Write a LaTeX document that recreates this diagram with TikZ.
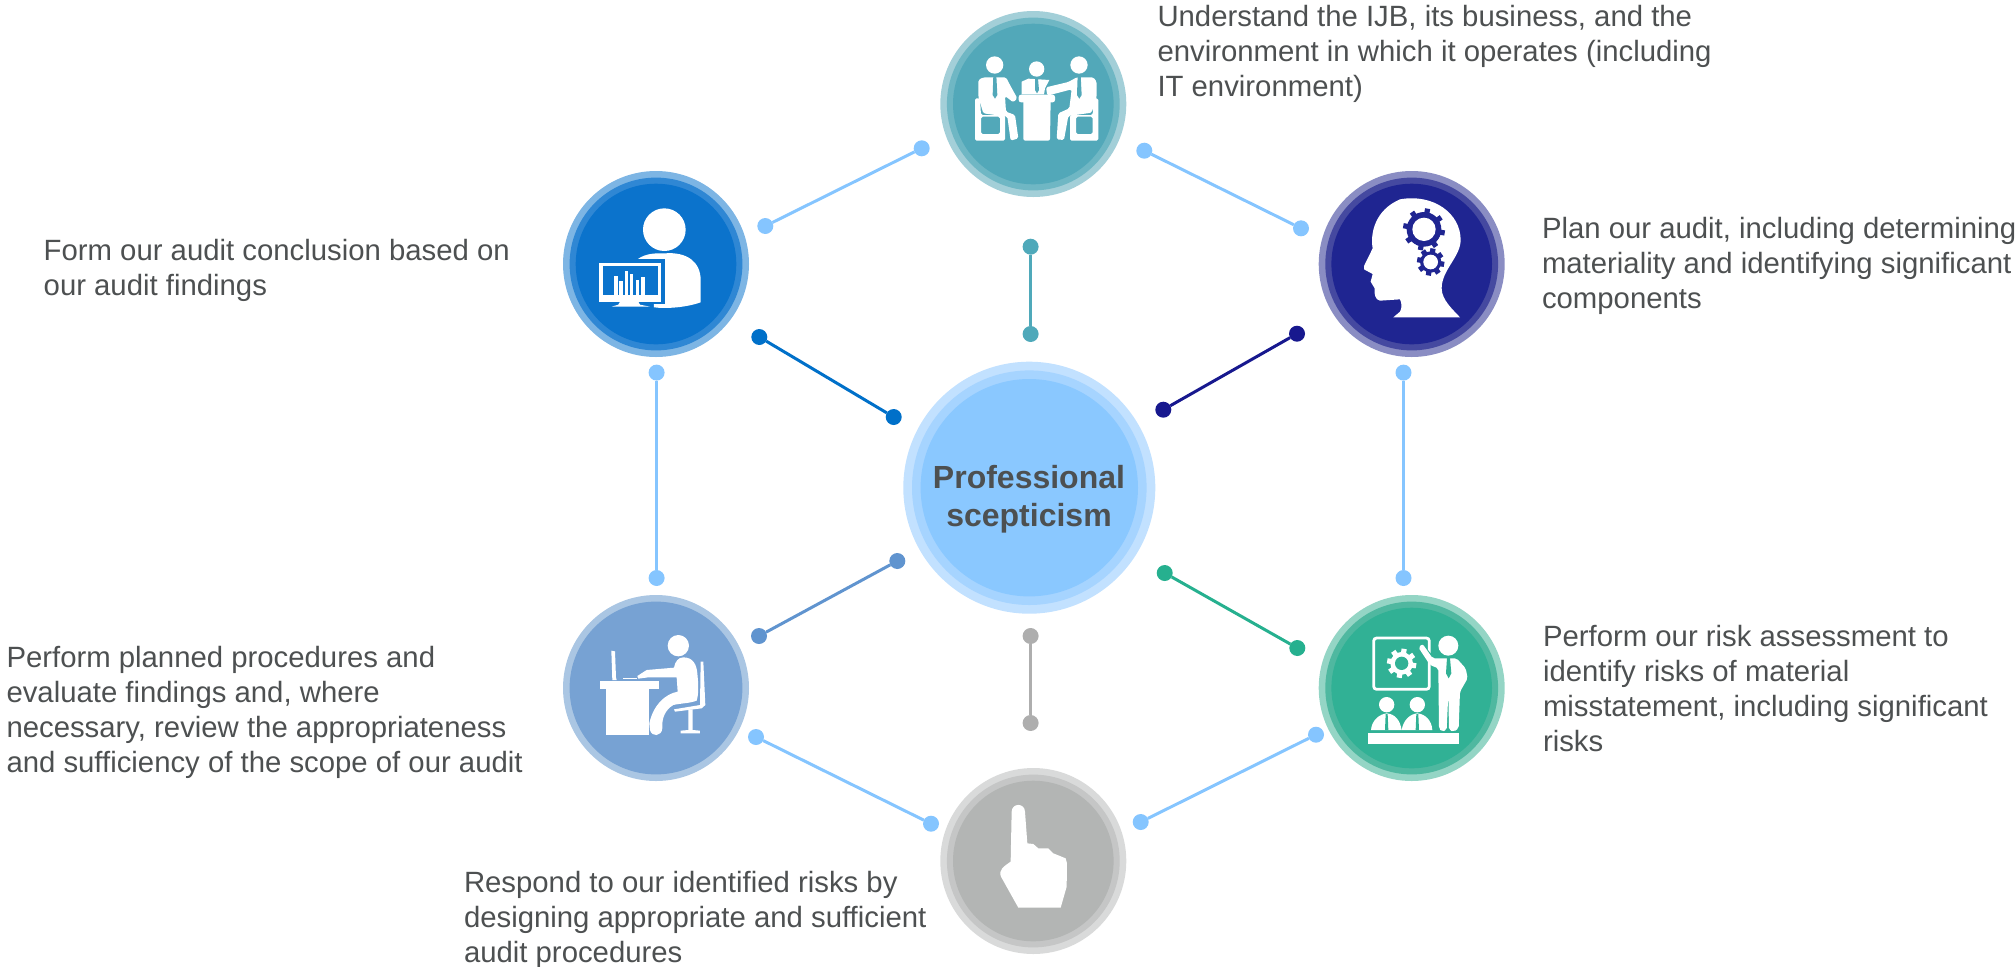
\documentclass[tikz,border=0pt]{standalone}
\usepackage{fontspec}
\setmainfont{Liberation Sans}
\definecolor{lb}{HTML}{85C5FF}
\definecolor{txt}{HTML}{4D5051}
\definecolor{tealA}{HTML}{A3CFD8}\definecolor{tealB}{HTML}{6FB7C4}\definecolor{tealC}{HTML}{52A8B9}
\definecolor{navyA}{HTML}{8A8DC3}\definecolor{navyB}{HTML}{4549A0}\definecolor{navyC}{HTML}{1F2591}
\definecolor{bluA}{HTML}{7DB5E4}\definecolor{bluB}{HTML}{2F87D4}\definecolor{bluC}{HTML}{0B73CC}
\definecolor{steA}{HTML}{AAC6E3}\definecolor{steB}{HTML}{77A2D3}\definecolor{steC}{HTML}{77A2D3}
\definecolor{grnA}{HTML}{94D5C5}\definecolor{grnB}{HTML}{4FB8A0}\definecolor{grnC}{HTML}{31B195}
\definecolor{gryA}{HTML}{D9DADA}\definecolor{gryB}{HTML}{C5C6C6}\definecolor{gryC}{HTML}{B3B5B4}
\definecolor{hubA}{HTML}{C2E1FF}\definecolor{hubB}{HTML}{A6D4FF}\definecolor{hubC}{HTML}{8AC8FF}
\definecolor{dBlu}{HTML}{0070C9}\definecolor{dNav}{HTML}{17188E}\definecolor{dSte}{HTML}{6094CF}
\definecolor{dGrn}{HTML}{26B08F}\definecolor{dGry}{HTML}{AEAEAE}\definecolor{dTea}{HTML}{4FA9BA}
\tikzset{
  disc/.style={circle,inner sep=0pt,outer sep=0pt,draw=none},
  pin/.style={circle,inner sep=0pt,outer sep=0pt,draw=none,minimum size=8pt,fill=#1},
  link/.style={draw=#1,line width=1.5pt},
  lbl/.style={anchor=north west,inner sep=0pt,outer sep=0pt,align=left,text=txt,font=\fontsize{14.66}{17.45}\selectfont},
  zoomed/.style={x=1/6*1pt,y=-1/6*1pt},
  wh/.style={fill=white,draw=none}
}
% gear: x, y, root radius, tooth radius, hole radius, gear colour, hole colour
\newcommand{\mygear}[7]{%
  \begin{scope}[shift={(#1,#2)}]
    \fill[#6] (0,0) circle[radius=#3];
    \foreach \a in {0,45,...,315}{\draw[#6,line width=2.6pt] (\a+10:#3-2) -- (\a+10:#4);}
    \fill[#7] (0,0) circle[radius=#5];
  \end{scope}}
\newcommand{\myrings}[6]{%
  \node[disc,minimum size=93pt,fill=#4] (#1) at (#2,#3) {};
  \node[disc,minimum size=86.4pt,fill=#5] (#1m) at (#2,#3) {};
  \node[disc,minimum size=80.3pt,fill=#6] (#1i) at (#2,#3) {};}
\begin{document}
\begin{tikzpicture}[x=0.5pt,y=-0.5pt]
\useasboundingbox (0,0) rectangle (2015,966);
% hub
\node[disc,minimum size=126pt,fill=hubA] (hub) at (1029.3,487.7) {};
\node[disc,minimum size=117.3pt,fill=hubB] (hubm) at (1029.3,487.7) {};
\node[disc,minimum size=108.7pt,fill=hubC] (hubi) at (1029.3,487.7) {};
\node[align=center,text=txt,inner sep=0pt,font=\fontsize{16}{18.9}\selectfont\bfseries] (hubt) at (1029,499.5) {Professional\\scepticism};
% rings
\myrings{t}{1033.3}{104}{tealA}{tealB}{tealC}
\myrings{r}{1411.7}{264}{navyA}{navyB}{navyC}
\myrings{l}{656}{264}{bluA}{bluB}{bluC}
\myrings{ll}{656}{688}{steA}{steB}{steC}
\myrings{lr}{1411.7}{688}{grnA}{grnB}{grnC}
\myrings{b}{1033.3}{861}{gryA}{gryB}{gryC}
% pins
\node[pin=lb] (a) at (921.7,148.3) {};
\node[pin=lb] (b) at (765.3,226) {};
\node[pin=dBlu] (c) at (759.3,337) {};
\node[pin=dBlu] (d) at (893.7,417) {};
\node[pin=lb] (e) at (1144.3,150.7) {};
\node[pin=lb] (f) at (1301,228.3) {};
\node[pin=dNav] (g) at (1297,333.7) {};
\node[pin=dNav] (h) at (1163.3,409.7) {};
\node[pin=dSte] (i) at (897.3,561) {};
\node[pin=dSte] (j) at (759,636) {};
\node[pin=lb] (k) at (756,737) {};
\node[pin=lb] (m) at (931,823.7) {};
\node[pin=dGrn] (n) at (1164.7,573) {};
\node[pin=dGrn] (o) at (1297.3,648) {};
\node[pin=lb] (p) at (1316,734.7) {};
\node[pin=lb] (q) at (1140.7,822) {};
\node[pin=dTea] (v1) at (1030.6,246.7) {};
\node[pin=dTea] (v2) at (1030.6,334) {};
\node[pin=dGry] (w1) at (1030.6,636) {};
\node[pin=dGry] (w2) at (1030.6,723) {};
\node[pin=lb] (x1) at (656.6,372.6) {};
\node[pin=lb] (x2) at (656.6,578) {};
\node[pin=lb] (y1) at (1403.5,372.6) {};
\node[pin=lb] (y2) at (1403.5,578) {};
\draw[link=lb] (a) -- (b);
\draw[link=dBlu] (c) -- (d);
\draw[link=lb] (e) -- (f);
\draw[link=dNav] (g) -- (h);
\draw[link=dSte] (i) -- (j);
\draw[link=lb] (k) -- (m);
\draw[link=dGrn] (n) -- (o);
\draw[link=lb] (p) -- (q);
\draw[link=dTea] (v1) -- (v2);
\draw[link=dGry] (w1) -- (w2);
\draw[link=lb] (x1) -- (x2);
\draw[link=lb] (y1) -- (y2);
% labels
\node[lbl] (t1) at (1157.5,5.5) {Understand the IJB, its business, and the\\environment in which it operates (including\\IT environment)};
\node[lbl] (t2) at (1542,217.5) {Plan our audit, including determining\\materiality and identifying significant\\components};
\node[lbl] (t3) at (43.7,239.5) {Form our audit conclusion based on\\our audit findings};
\node[lbl] (t4) at (6.5,646.5) {Perform planned procedures and\\evaluate findings and, where\\necessary, review the appropriateness\\and sufficiency of the scope of our audit};
\node[lbl] (t5) at (1543,625.5) {Perform our risk assessment to\\identify risks of material\\misstatement, including significant\\risks};
\node[lbl] (t6) at (464,871.5) {Respond to our identified risks by\\designing appropriate and sufficient\\audit procedures};
% icon: meeting
\begin{scope}[shift={(920,0)},zoomed]
  \fill[wh] (224,195) circle[radius=26];
  \fill[wh] (477,195) circle[radius=26];
  \fill[wh] (350,207) circle[radius=23];
  % chairs
  \fill[wh,rounded corners=0.8pt,even odd rule] (165,295) -- (180,295) -- (183,345) -- (255,345) -- (255,422) -- (165,422) -- cycle (183,350) rectangle (240,402);
  \fill[wh,rounded corners=0.8pt,even odd rule] (535,295) -- (520,295) -- (518,345) -- (450,345) -- (450,422) -- (535,422) -- cycle (468,350) rectangle (518,402);
  % left person
  \fill[tealC] (183,290) rectangle (262,335);
  \fill[wh,rounded corners=0.8pt] (175,240) -- (190,232) -- (258,232) -- (270,255) -- (292,295) -- (280,307) -- (255,288) -- (258,335) -- (285,345) -- (295,415) -- (272,422) -- (262,350) -- (190,340) -- (175,290) -- cycle;
  \fill[tealC] (220,226) -- (229,226) -- (232,285) -- (225,296) -- (218,285) -- cycle;
  % right person
  \fill[tealC] (450,290) rectangle (518,335);
  \fill[wh,rounded corners=0.8pt] (378,262) -- (445,246) -- (470,232) -- (520,232) -- (530,245) -- (530,290) -- (515,338) -- (445,348) -- (432,420) -- (410,418) -- (415,340) -- (448,325) -- (455,268) -- (382,287) -- cycle;
  \fill[tealC] (473,226) -- (482,226) -- (485,285) -- (478,296) -- (471,285) -- cycle;
  % middle
  \fill[wh] (305,283) -- (305,245) -- (325,236) -- (388,240) -- (375,265) -- (372,283) -- cycle;
  \fill[tealC] (345,236) -- (354,236) -- (357,270) -- (351,280) -- (345,270) -- cycle;
  \fill[wh,rounded corners=1.2pt] (296,284) rectangle (405,307);
  \fill[wh,rounded corners=1pt] (310,300) -- (392,300) -- (390,422) -- (310,422) -- cycle;
\end{scope}
% icon: head with gears
\begin{scope}[shift={(1300,160)},zoomed]
  \fill[wh] (280,472) -- (300,455) .. controls (306,445) and (306,430) .. (300,418) -- (240,422) .. controls (225,420) and (222,400) .. (224,385) -- (212,365) -- (218,342) -- (192,328) -- (192,318) -- (218,265) .. controls (210,220) and (225,150) .. (300,118) .. controls (400,100) and (482,160) .. (482,240) .. controls (482,290) and (425,330) .. (425,385) .. controls (425,420) and (460,450) .. (480,472) -- cycle;
  \mygear{372}{208}{52}{63}{35}{navyC}{white}
  \mygear{392}{306}{32}{41}{22}{navyC}{white}
\end{scope}
% icon: analyst
\begin{scope}[shift={(550,160)},zoomed]
  \fill[wh] (343,209) circle[radius=64];
  \fill[wh] (262,298) .. controls (290,278) and (320,280) .. (345,280) .. controls (410,275) and (452,305) .. (452,360) -- (452,427) .. controls (410,442) and (350,447) .. (312,442) -- (312,300) -- cycle;
  \fill[bluC] (145,298) rectangle (345,432);
  \fill[wh] (148,308) rectangle (333,425);
  \fill[bluC] (160,318) rectangle (323,405);
  \fill[wh] (210,425) -- (265,425) -- (270,434) -- (300,440) -- (185,440) -- (205,434) -- cycle;
  \fill[wh] (192,349) rectangle (204,405);
  \fill[wh] (208,362) rectangle (218,405);
  \fill[wh] (224,333) rectangle (235,405);
  \fill[wh] (241,342) rectangle (250,405);
  \fill[wh] (257,361) rectangle (268,405);
  \fill[wh] (273,350) rectangle (285,405);
\end{scope}
% icon: person at desk
\begin{scope}[shift={(550,590)},zoomed]
  \fill[wh] (385,167) circle[radius=32];
  \fill[wh] (150,273) rectangle (328,298);
  \fill[wh] (167,298) rectangle (298,436);
  \fill[wh] (184,182) -- (195,184) -- (198,262) -- (200,270) -- (187,270) -- cycle;
  \fill[wh] (220,263) rectangle (262,268);
  \fill[wh] (400,202) .. controls (430,202) and (440,225) .. (442,250) .. controls (445,280) and (447,310) .. (440,332) .. controls (420,340) and (390,340) .. (370,345) .. controls (345,360) and (335,385) .. (337,415) .. controls (335,440) and (305,442) .. (300,420) -- (298,400) .. controls (310,345) and (345,312) .. (383,305) -- (380,262) -- (295,262) -- (265,266) -- (262,258) -- (290,240) -- (372,233) .. controls (375,215) and (385,202) .. (400,202) -- cycle;
  \fill[wh] (452,215) -- (460,215) -- (466,345) -- (455,355) -- (375,365) -- (372,358) -- (450,345) -- cycle;
  \fill[wh] (415,360) -- (428,358) -- (428,420) -- (450,422) -- (450,430) -- (392,430) -- (392,422) -- (415,420) -- cycle;
\end{scope}
% icon: presenter
\begin{scope}[shift={(1300,590)},zoomed]
  \draw[white,line width=1.4pt,rounded corners=1.5pt] (221,144) rectangle (388,298);
  \mygear{305}{220}{34}{44}{20}{white}{grnC}
  \draw[grnC,line width=3.4pt] (362,170) -- (400,215);
  \fill[wh] (445,167) circle[radius=30];
  \fill[wh,rounded corners=1pt] (355,172) -- (368,162) -- (398,205) -- (420,205) -- (470,205) -- (497,235) -- (503,265) -- (480,305) -- (476,415) -- (462,425) -- (447,420) -- (445,310) -- (440,420) -- (425,425) -- (417,415) -- (415,235) -- (390,225) -- cycle;
  \fill[grnC] (441,204) -- (450,204) -- (454,250) -- (446,265) -- (438,250) -- cycle;
  \fill[wh] (260,344) circle[radius=23];
  \fill[wh] (352,344) circle[radius=23];
  \fill[wh] (213,420) .. controls (215,390) and (240,372) .. (260,370) .. controls (285,372) and (300,390) .. (305,420) -- cycle;
  \fill[wh] (305,420) .. controls (310,390) and (330,372) .. (352,370) .. controls (375,372) and (395,390) .. (397,420) -- cycle;
  \fill[grnC] (257,372) -- (263,372) -- (265,420) -- (255,420) -- cycle;
  \fill[grnC] (349,372) -- (355,372) -- (357,420) -- (347,420) -- cycle;
  \fill[wh] (204,430) rectangle (476,462);
\end{scope}
% icon: pointing hand
\begin{scope}[shift={(920,760)},zoomed]
  \fill[wh] (275,155) .. controls (276,128) and (314,128) .. (315,155) -- (322,250) -- (340,252) -- (355,265) -- (385,265) -- (400,280) -- (437,295) -- (441,310) -- (440,380) -- (422,443) -- (295,443) -- (243,350) .. controls (235,330) and (250,320) .. (272,305) -- cycle;
\end{scope}
\end{tikzpicture}
\end{document}
